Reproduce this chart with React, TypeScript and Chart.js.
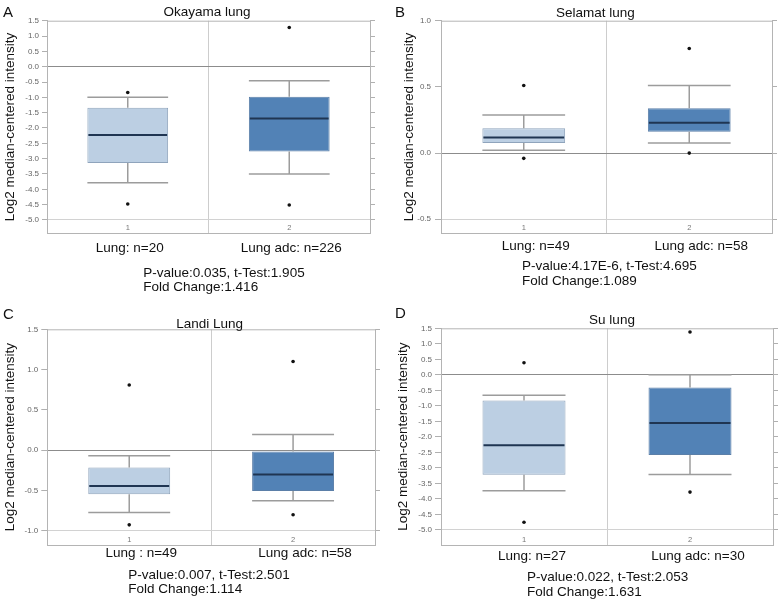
import React, { useEffect, useRef } from "react";
import { Chart, registerables } from "chart.js";

Chart.register(...registerables);

const FONT = '"Liberation Sans", Arial, Helvetica, sans-serif';

// ---------- Panel A: Okayama lung ----------
const okayamaCategories = ["Lung: n=20", "Lung adc: n=226"];
const okayamaWhiskerLow = [-3.79, -3.5];
const okayamaQ1 = [-3.14, -2.77];
const okayamaMedian = [-2.23, -1.69];
const okayamaQ3 = [-1.34, -0.98];
const okayamaWhiskerHigh = [-1.0, -0.46];
const okayamaOutliers = [[-0.84, -4.48], [1.28, -4.51]];
const okayamaStats = ["P-value:0.035, t-Test:1.905", "Fold Change:1.416"];

// ---------- Panel B: Selamat lung ----------
const selamatCategories = ["Lung: n=49", "Lung adc: n=58"];
const selamatWhiskerLow = [0.022, 0.076];
const selamatQ1 = [0.077, 0.161];
const selamatMedian = [0.118, 0.23];
const selamatQ3 = [0.187, 0.338];
const selamatWhiskerHigh = [0.288, 0.51];
const selamatOutliers = [[0.51, -0.04], [0.79, 0.0]];
const selamatStats = ["P-value:4.17E-6, t-Test:4.695", "Fold Change:1.089"];

// ---------- Panel C: Landi Lung ----------
const landiCategories = ["Lung : n=49", "Lung adc: n=58"];
const landiWhiskerLow = [-0.775, -0.629];
const landiQ1 = [-0.55, -0.508];
const landiMedian = [-0.446, -0.304];
const landiQ3 = [-0.217, -0.017];
const landiWhiskerHigh = [-0.071, 0.192];
const landiOutliers = [[0.808, -0.929], [1.1, -0.804]];
const landiStats = ["P-value:0.007, t-Test:2.501", "Fold Change:1.114"];

// ---------- Panel D: Su lung ----------
const suCategories = ["Lung: n=27", "Lung adc: n=30"];
const suWhiskerLow = [-3.74, -3.21];
const suQ1 = [-3.22, -2.58];
const suMedian = [-2.27, -1.55];
const suQ3 = [-0.83, -0.41];
const suWhiskerHigh = [-0.66, 0.0];
const suOutliers = [[0.39, -4.75], [1.38, -3.78]];
const suStats = ["P-value:0.022, t-Test:2.053", "Fold Change:1.631"];

const Y_TITLE = "Log2 median-centered intensity";
const BOX_FILL = ["#bccfe3", "#5282b6"];
const BOX_BORDER = ["#8fa4bc", "#5b7fa8"];

const panels = [
  {
    letter: "A", title: "Okayama lung",
    categories: okayamaCategories, low: okayamaWhiskerLow, q1: okayamaQ1, median: okayamaMedian,
    q3: okayamaQ3, high: okayamaWhiskerHigh, outliers: okayamaOutliers, stats: okayamaStats,
    yMin: -5.435, yMax: 1.5, step: 0.5,
    left: 0, top: 0, w: 392, h: 300,
    L: 47, R: 370, T: 20.7, B: 233.3,
    yTitlePad: 1.9, tickLen: 5, tickPad: 3, xPad: 6.6, labelOffset: 2,
    letterX: 3, letterY: 16.7, titleX: 207, titleY: 16.3, statsX: 143.3, statsY: [276.7, 291],
  },
  {
    letter: "B", title: "Selamat lung",
    categories: selamatCategories, low: selamatWhiskerLow, q1: selamatQ1, median: selamatMedian,
    q3: selamatQ3, high: selamatWhiskerHigh, outliers: selamatOutliers, stats: selamatStats,
    yMin: -0.606, yMax: 1.0, step: 0.5,
    left: 392, top: 0, w: 392, h: 300,
    L: 49, R: 380, T: 20.7, B: 233.3,
    yTitlePad: 9.4, tickLen: 6, tickPad: 4, xPad: 4.9, labelOffset: 12,
    letterX: 3, letterY: 17, titleX: 203.3, titleY: 16.7, statsX: 130, statsY: [270, 285],
  },
  {
    letter: "C", title: "Landi Lung",
    categories: landiCategories, low: landiWhiskerLow, q1: landiQ1, median: landiMedian,
    q3: landiQ3, high: landiWhiskerHigh, outliers: landiOutliers, stats: landiStats,
    yMin: -1.179, yMax: 1.5, step: 0.5,
    left: 0, top: 300, w: 392, h: 306,
    L: 47.3, R: 375, T: 29.3, B: 245,
    yTitlePad: 1.9, tickLen: 6, tickPad: 3, xPad: 0.5, labelOffset: 12,
    letterX: 3, letterY: 19.3, titleX: 209.7, titleY: 27.7, statsX: 128.3, statsY: [278.7, 293],
  },
  {
    letter: "D", title: "Su lung",
    categories: suCategories, low: suWhiskerLow, q1: suQ1, median: suMedian,
    q3: suQ3, high: suWhiskerHigh, outliers: suOutliers, stats: suStats,
    yMin: -5.485, yMax: 1.5, step: 0.5,
    left: 392, top: 300, w: 392, h: 306,
    L: 49, R: 381, T: 28.3, B: 245,
    yTitlePad: 2.9, tickLen: 6, tickPad: 3, xPad: 3.2, labelOffset: 8,
    letterX: 3, letterY: 18.3, titleX: 220, titleY: 24, statsX: 135, statsY: [281, 296],
  },
];

function makeDecor(p: any) {
  return {
    id: "boxDecor" + p.letter,
    afterDatasetsDraw(chart: any) {
      const { ctx, chartArea: a, scales } = chart;
      const x = scales.x;
      const y = scales.y;
      const meta = chart.getDatasetMeta(0);
      ctx.save();
      // top frame line
      ctx.strokeStyle = "#b4b4b4";
      ctx.lineWidth = 1;
      ctx.beginPath();
      ctx.moveTo(a.left, a.top + 0.5);
      ctx.lineTo(a.right, a.top + 0.5);
      ctx.stroke();

      const seg = (x1: number, y1: number, x2: number, y2: number) => {
        ctx.beginPath();
        ctx.moveTo(x1, y1);
        ctx.lineTo(x2, y2);
        ctx.stroke();
      };
      for (let i = 0; i < p.median.length; i++) {
        const bar = meta.data[i];
        const cx = x.getPixelForValue(i);
        const half = bar.width / 2;
        ctx.strokeStyle = "#9c9c9c";
        ctx.lineWidth = 1.5;
        const yHigh = y.getPixelForValue(p.high[i]);
        const yLow = y.getPixelForValue(p.low[i]);
        const yQ3 = y.getPixelForValue(p.q3[i]);
        const yQ1 = y.getPixelForValue(p.q1[i]);
        seg(cx, yQ3, cx, yHigh);
        seg(cx - half, yHigh, cx + half, yHigh);
        seg(cx, yQ1, cx, yLow);
        seg(cx - half, yLow, cx + half, yLow);
        ctx.strokeStyle = "#1f3552";
        ctx.lineWidth = 2;
        const yMed = y.getPixelForValue(p.median[i]);
        seg(cx - half + 1, yMed, cx + half - 1, yMed);
        // small category index inside plot
        ctx.fillStyle = "#777";
        ctx.font = `7.5px ${FONT}`;
        ctx.textAlign = "center";
        ctx.textBaseline = "middle";
        ctx.fillText(String(i + 1), cx, a.bottom - 5.5);
      }
      ctx.restore();
    },
    afterDraw(chart: any) {
      const { ctx } = chart;
      ctx.save();
      ctx.fillStyle = "#111";
      ctx.textBaseline = "alphabetic";
      ctx.textAlign = "left";
      ctx.font = `15px ${FONT}`;
      ctx.fillText(p.letter, p.letterX, p.letterY);
      ctx.textAlign = "center";
      ctx.font = `13.5px ${FONT}`;
      ctx.fillText(p.title, p.titleX, p.titleY);
      ctx.textAlign = "left";
      p.stats.forEach((s: string, k: number) => ctx.fillText(s, p.statsX, p.statsY[k]));
      ctx.restore();
    },
  };
}

function buildConfig(p: any): any {
  const outlierPoints: { x: string; y: number }[] = [];
  p.outliers.forEach((vals: number[], i: number) =>
    vals.forEach((v) => outlierPoints.push({ x: p.categories[i], y: v }))
  );
  const yTicks = {
    stepSize: p.step,
    includeBounds: false,
    font: { family: FONT, size: 8 },
    color: "#666",
    padding: p.tickPad,
    callback: (v: any) => Number(v).toFixed(1),
  };
  return {
    type: "bar",
    data: {
      labels: p.categories,
      datasets: [
        {
          type: "bar",
          data: p.categories.map((_: string, i: number) => [p.q1[i], p.q3[i]]),
          backgroundColor: BOX_FILL,
          borderColor: BOX_BORDER,
          borderWidth: 1,
          borderSkipped: false,
          barPercentage: 0.5,
          categoryPercentage: 1,
          xAxisID: "x",
          yAxisID: "y",
          order: 2,
        },
        {
          type: "line",
          data: outlierPoints,
          showLine: false,
          pointRadius: 1.8,
          pointBackgroundColor: "#111",
          pointBorderWidth: 0,
          borderColor: "#111",
          xAxisID: "x",
          yAxisID: "y",
          order: 1,
        },
      ],
    },
    options: {
      animation: false,
      responsive: false,
      events: [],
      layout: { padding: { top: p.T, left: 0, right: 0, bottom: 0 } },
      plugins: { legend: { display: false }, tooltip: { enabled: false }, title: { display: false } },
      scales: {
        x: {
          type: "category",
          position: "bottom",
          offset: true,
          grid: { offset: true, color: "#cdcdcd", drawTicks: false },
          border: { color: "#b4b4b4" },
          ticks: {
            font: { family: FONT, size: 13.5 },
            color: "#111",
            padding: p.xPad,
            labelOffset: p.labelOffset,
            maxRotation: 0,
            autoSkip: false,
          },
          afterFit: (s: any) => { s.height = p.h - p.B; },
        },
        y: {
          type: "linear",
          position: "left",
          min: p.yMin,
          max: p.yMax,
          ticks: yTicks,
          grid: {
            color: (c: any) => (c.tick && c.tick.value === 0 ? "#8c8c8c" : c.index === 0 ? "#d2d2d2" : "rgba(0,0,0,0)"),
            tickColor: "#b0b0b0",
            tickLength: p.tickLen,
          },
          border: { color: "#b4b4b4" },
          title: {
            display: true,
            text: Y_TITLE,
            font: { family: FONT, size: 13.5 },
            color: "#111",
            padding: { top: p.yTitlePad, bottom: 0 },
          },
          afterFit: (s: any) => { s.width = p.L; },
        },
        y2: {
          type: "linear",
          position: "right",
          min: p.yMin,
          max: p.yMax,
          ticks: { ...yTicks, display: false },
          grid: { drawOnChartArea: false, tickColor: "#b0b0b0", tickLength: 5 },
          border: { color: "#b4b4b4" },
          afterFit: (s: any) => { s.width = p.w - p.R; },
        },
      },
    },
    plugins: [makeDecor(p)],
  };
}

function Panel({ p }: { p: any }) {
  const ref = useRef<HTMLCanvasElement>(null);
  useEffect(() => {
    const chart = new Chart(ref.current as HTMLCanvasElement, buildConfig(p));
    return () => chart.destroy();
  }, [p]);
  return (
    <div style={{ position: "absolute", left: p.left, top: p.top, width: p.w, height: p.h }}>
      <canvas ref={ref} width={p.w} height={p.h} style={{ width: p.w, height: p.h, display: "block" }} />
    </div>
  );
}

export default function App() {
  return (
    <div style={{ position: "absolute", left: 0, top: 0, width: 784, height: 606, background: "#fff", overflow: "hidden" }}>
      {panels.map((p) => (
        <Panel key={p.letter} p={p} />
      ))}
    </div>
  );
}
